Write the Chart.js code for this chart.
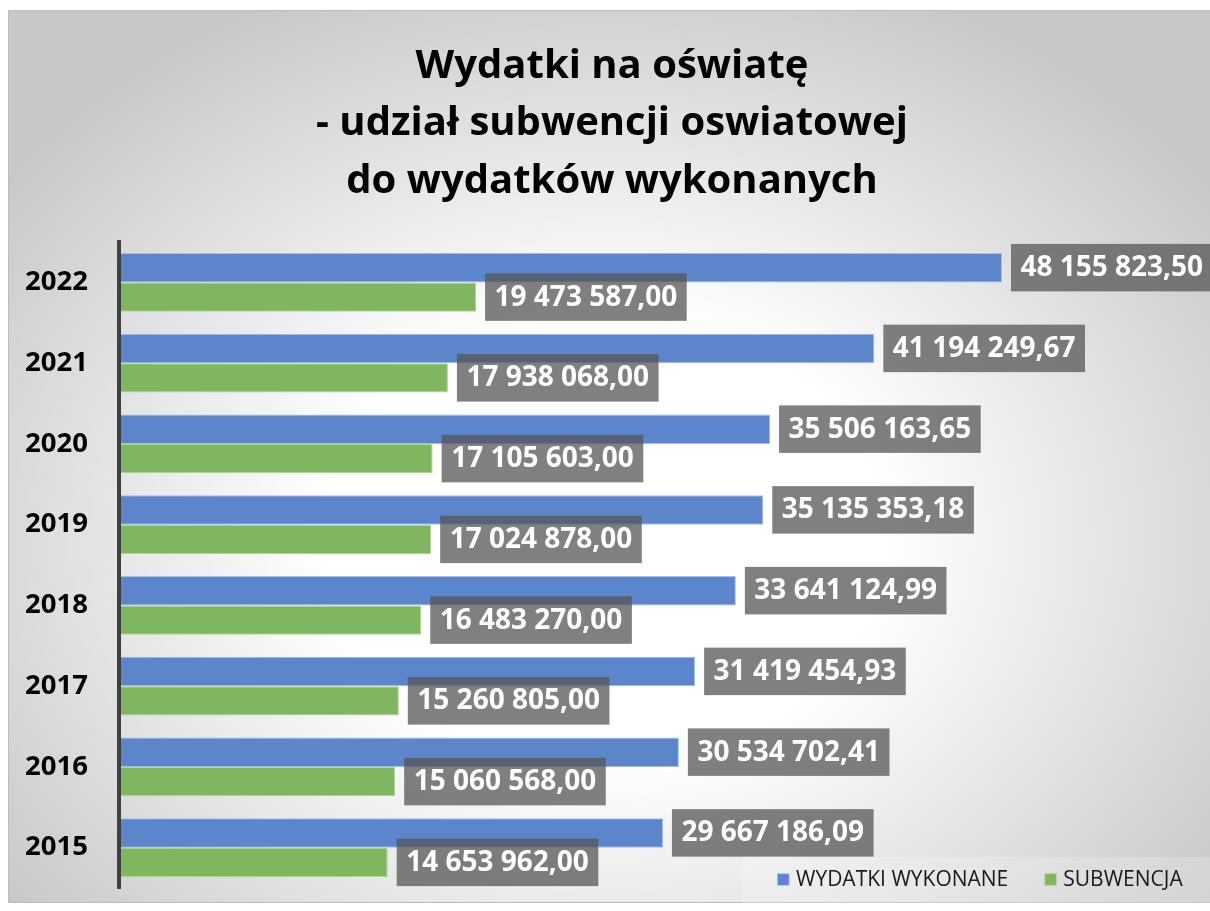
<!DOCTYPE html>
<html><head><meta charset="utf-8">
<script src="https://cdn.jsdelivr.net/npm/chart.js@4.4.1/dist/chart.umd.min.js"></script>
<style>html,body{margin:0;padding:0;background:#fff;overflow:hidden}canvas{display:block}</style>
</head><body>
<canvas id="c" width="1210" height="911"></canvas>
<script>
const categories = ['2022','2021','2020','2019','2018','2017','2016','2015'];
const seriesNames = ['WYDATKI WYKONANE','SUBWENCJA'];
const wydatki = [48155823.50, 41194249.67, 35506163.65, 35135353.18, 33641124.99, 31419454.93, 30534702.41, 29667186.09];
const subwencja = [19473587.00, 17938068.00, 17105603.00, 17024878.00, 16483270.00, 15260805.00, 15060568.00, 14653962.00];
const titleLines = ['Wydatki na oświatę', '- udział subwencji oswiatowej', 'do wydatków wykonanych'];
const gridStep = 10000000;
const axisMax = 59500000;

const FONT = '"Open Sans", "DejaVu Sans", sans-serif';
Chart.defaults.font.family = FONT;

function fmtPL(v) {
  const parts = v.toFixed(2).split('.');
  const intPart = parts[0].replace(/\B(?=(\d{3})+(?!\d))/g, ' ');
  return intPart + ',' + parts[1];
}

const panelPlugin = {
  id: 'panel',
  beforeDraw(chart) {
    const ctx = chart.ctx, w = chart.width, h = chart.height;
    ctx.save();
    ctx.fillStyle = '#ffffff';
    ctx.fillRect(0, 0, w, h);
    const x0 = 8, y0 = 10, x1 = 1210, y1 = 903;
    ctx.beginPath();
    ctx.rect(x0, y0, x1 - x0, y1 - y0);
    ctx.clip();
    ctx.translate(605, 540);
    ctx.scale(749 / 599, 1);
    const g = ctx.createRadialGradient(0, 0, 0, 0, 0, 599);
    g.addColorStop(0, '#ffffff');
    g.addColorStop(0.37, '#ffffff');
    g.addColorStop(1, '#c8c8c8');
    ctx.fillStyle = g;
    ctx.fillRect(-1200, -1200, 2400, 2400);
    ctx.restore();
    ctx.save();
    ctx.strokeStyle = '#bcbcbc';
    ctx.lineWidth = 1;
    ctx.strokeRect(x0 + 0.5, y0 + 0.5, x1 - x0, y1 - y0 - 1);
    ctx.restore();
  }
};

const labelsPlugin = {
  id: 'valueLabels',
  afterDraw(chart) {
    const ctx = chart.ctx;
    ctx.save();
    // legend box
    ctx.fillStyle = 'rgba(255,255,255,0.22)';
    ctx.fillRect(742, 857, 1210 - 742, 46);
    // value labels
    ctx.font = 'bold 28px ' + FONT;
    ctx.textBaseline = 'middle';
    ctx.textAlign = 'left';
    chart.data.datasets.forEach((ds, i) => {
      const meta = chart.getDatasetMeta(i);
      meta.data.forEach((el, j) => {
        const txt = fmtPL(ds.data[j]);
        const tw = ctx.measureText(txt).width;
        const bh = 47.5;
        const bx = el.x + 9, by = el.y - bh / 2, bw = tw + 19;
        ctx.fillStyle = 'rgba(85,85,85,0.75)';
        ctx.fillRect(bx, by, bw, bh);
        ctx.fillStyle = '#ffffff';
        ctx.fillText(txt, bx + 9.5, el.y + 0.5);
      });
    });
    // legend items
    ctx.font = '21px ' + FONT;
    let lx = 777;
    const ly = 879.5;
    chart.data.datasets.forEach((ds) => {
      ctx.fillStyle = ds.borderColor;
      ctx.fillRect(lx, ly - 6.3, 12.6, 12.6);
      ctx.fillStyle = ds.backgroundColor;
      ctx.fillRect(lx + 1, ly - 5.3, 10.6, 10.6);
      ctx.fillStyle = '#1a1a1a';
      ctx.fillText(ds.label, lx + 19, ly + 0.5);
      lx += 19 + ctx.measureText(ds.label).width + 36;
    });
    ctx.restore();
  }
};

new Chart(document.getElementById('c'), {
  type: 'bar',
  data: {
    labels: categories,
    datasets: [
      { label: seriesNames[0], data: wydatki, backgroundColor: '#5d85cc', borderColor: '#a3bce8', borderWidth: 1 },
      { label: seriesNames[1], data: subwencja, backgroundColor: '#80b660', borderColor: '#b0d496', borderWidth: 1 }
    ]
  },
  options: {
    indexAxis: 'y',
    responsive: false,
    animation: false,
    devicePixelRatio: 1,
    layout: { padding: { top: 10, left: 14, right: 0, bottom: 23 } },
    datasets: { bar: { categoryPercentage: 0.73, barPercentage: 1.0 } },
    scales: {
      x: {
        min: 0, max: axisMax,
        ticks: { display: false, stepSize: gridStep },
        grid: {
          z: 1, drawTicks: false, lineWidth: 1,
          color: (c) => (c.tick && c.tick.value % gridStep === 0) ? 'rgba(0,0,0,0.25)' : 'rgba(0,0,0,0)'
        },
        border: { display: false }
      },
      y: {
        afterFit(scale) { scale.width = 105; scale.paddingTop = 0; scale.paddingBottom = 0; },
        grid: { display: false, drawTicks: false },
        border: { display: true, color: '#404040', width: 4, z: 1 },
        ticks: { color: '#000000', padding: 31, font: { size: 27.5, weight: 'bold', family: FONT } }
      }
    },
    plugins: {
      legend: { display: false },
      tooltip: { enabled: false },
      title: {
        display: true,
        text: titleLines,
        color: '#000000',
        font: { size: 40, weight: 'bold', family: FONT, lineHeight: 1.4375 },
        padding: { top: 27.8, bottom: 31.7 }
      }
    }
  },
  plugins: [panelPlugin, labelsPlugin]
});
</script>
</body></html>
